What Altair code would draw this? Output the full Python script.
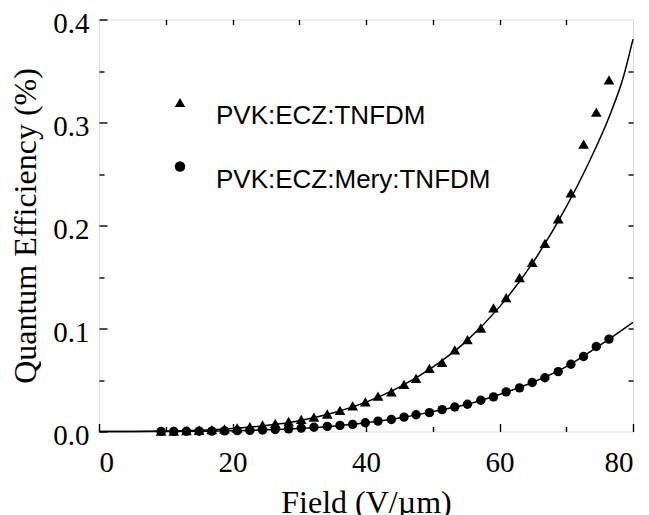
import altair as alt
import pandas as pd

series_names = ["PVK:ECZ:TNFDM", "PVK:ECZ:Mery:TNFDM"]

field_x = [9.3, 11.2, 13.1, 15.0, 16.9, 18.8, 20.7, 22.6, 24.5, 26.4, 28.4, 30.3,
           32.2, 34.2, 36.1, 38.0, 39.9, 41.8, 43.8, 45.7, 47.5, 49.5, 51.4, 53.3,
           55.2, 57.2, 59.1, 61.0, 63.0, 64.9, 66.8, 68.8, 70.7, 72.6, 74.5, 76.4]
tnfdm_y = [0.0003, 0.0005, 0.0008, 0.0012, 0.0018, 0.0026, 0.0036, 0.0048, 0.0063,
           0.0079, 0.0097, 0.0117, 0.0140, 0.0170, 0.0206, 0.0248, 0.0287, 0.0343,
           0.0385, 0.0457, 0.0516, 0.0613, 0.0672, 0.0793, 0.0891, 0.1005, 0.1201,
           0.1299, 0.1494, 0.1641, 0.1827, 0.2065, 0.2316, 0.2790, 0.3100, 0.3414]
mery_y = [0.0001, 0.0001, 0.0002, 0.0003, 0.0004, 0.0006, 0.0008, 0.0011, 0.0015,
          0.0020, 0.0026, 0.0033, 0.0041, 0.0050, 0.0059, 0.0069, 0.0085, 0.0101,
          0.0117, 0.0140, 0.0163, 0.0183, 0.0212, 0.0238, 0.0264, 0.0303, 0.0336,
          0.0385, 0.0424, 0.0476, 0.0522, 0.0581, 0.0653, 0.0728, 0.0825, 0.0897]

fit1_x = [0, 5, 10, 15, 20, 25, 30, 35, 40, 45, 50, 55, 60, 65, 70, 73.3, 76.7, 78.5, 80]
fit1_y = [0, 0.0001, 0.0004, 0.0011, 0.0028, 0.0058, 0.0105, 0.0180, 0.0285, 0.0430,
          0.0625, 0.0875, 0.1210, 0.1640, 0.2180, 0.2600, 0.3100, 0.3430, 0.3810]
fit2_x = [0, 5, 10, 15, 20, 25, 30, 35, 40, 45, 50, 55, 60, 65, 70, 75, 80]
fit2_y = [0, 0, 0.0001, 0.0003, 0.0007, 0.0016, 0.0030, 0.0052, 0.0085, 0.0132,
          0.0193, 0.0262, 0.0360, 0.0478, 0.0630, 0.0835, 0.1060]

x_major = [0, 20, 40, 60, 80]
x_minor = [10, 30, 50, 70]
x_top = [10, 20, 30, 40, 50, 60, 70]
y_major = [0.0, 0.1, 0.2, 0.3, 0.4]
y_minor = [0.05, 0.15, 0.25, 0.35]
y_right = [0.05, 0.1, 0.15, 0.2, 0.25, 0.3, 0.35]

tri = pd.DataFrame({"x": field_x, "y": tnfdm_y, "series": [series_names[0]] * len(field_x)})
cir = pd.DataFrame({"x": field_x, "y": mery_y, "series": [series_names[1]] * len(field_x)})
fit1 = pd.DataFrame({"x": fit1_x, "y": fit1_y})
fit2 = pd.DataFrame({"x": fit2_x, "y": fit2_y})

SERIF = "Liberation Serif"
SANS = "Liberation Sans"
MAJ = 8
MIN = 5

xs = alt.Scale(domain=[0, 80], nice=False, zero=False)
ys = alt.Scale(domain=[0, 0.4], nice=False)

common = dict(domain=False, grid=False, tickColor="black", tickWidth=1.4)

ax_x_major = alt.Axis(orient="bottom", values=x_major, format="d", tickSize=MAJ, offset=-MAJ,
                      labelFont=SERIF, labelFontSize=29, labelColor="black", labelPadding=17,
                      title="Field (V/µm)", titleFont=SERIF, titleFontSize=32,
                      titleFontWeight="normal", titleColor="black", titlePadding=10, **common)
ax_y_major = alt.Axis(orient="left", values=y_major, format=".1f", tickSize=MAJ, offset=-MAJ,
                      labelFont=SERIF, labelFontSize=29, labelColor="black", labelPadding=10,
                      labelOffset=4,
                      title="Quantum Efficiency (%)", titleFont=SERIF, titleFontSize=32,
                      titleFontWeight="normal", titleColor="black", titlePadding=10, **common)
ax_x_minor = alt.Axis(orient="bottom", values=x_minor, tickSize=MIN, offset=-MIN,
                      labels=False, title=None, **common)
ax_y_minor = alt.Axis(orient="left", values=y_minor, tickSize=MIN, offset=-MIN,
                      labels=False, title=None, **common)
ax_x_top = alt.Axis(orient="top", values=x_top, tickSize=MIN, offset=-MIN,
                    labels=False, title=None, **common)
ax_y_right = alt.Axis(orient="right", values=y_right, tickSize=MIN, offset=-MIN,
                      labels=False, title=None, **common)

shape_scale = alt.Scale(domain=series_names, range=["triangle-up", "circle"])
legend = alt.Legend(orient="none", legendX=68, legendY=70, title=None,
                    labelFont=SANS, labelFontSize=26, labelColor="black", labelBaseline="top",
                    labelLimit=500,
                    symbolFillColor="black", symbolStrokeColor="black",
                    symbolStrokeWidth=0, symbolSize=110, rowPadding=25,
                    labelOffset=23, padding=0)

line1 = alt.Chart(fit1).mark_line(color="black", strokeWidth=1.5, interpolate="monotone").encode(
    x=alt.X("x:Q", scale=xs, axis=ax_x_major),
    y=alt.Y("y:Q", scale=ys, axis=ax_y_major),
)
line2 = alt.Chart(fit2).mark_line(color="black", strokeWidth=1.5, interpolate="monotone").encode(
    x=alt.X("x:Q", scale=xs, axis=ax_x_top),
    y=alt.Y("y:Q", scale=ys, axis=ax_y_right),
)
pts_tri = alt.Chart(tri).mark_point(filled=True, color="black", opacity=1, size=115).encode(
    x=alt.X("x:Q", scale=xs, axis=ax_x_minor),
    y=alt.Y("y:Q", scale=ys, axis=ax_y_minor),
    shape=alt.Shape("series:N", scale=shape_scale, legend=legend),
)
pts_cir = alt.Chart(cir).mark_point(filled=True, color="black", opacity=1, size=88).encode(
    x=alt.X("x:Q", scale=xs, axis=None),
    y=alt.Y("y:Q", scale=ys, axis=None),
    shape=alt.Shape("series:N", scale=shape_scale, legend=legend),
)

chart = alt.layer(line1, line2, pts_tri, pts_cir).resolve_axis(
    x="independent", y="independent"
).properties(
    width=534, height=412,
    padding={"left": 91, "top": 11.5, "right": 8, "bottom": 84},
    autosize=alt.AutoSizeParams(type="none"),
).configure_view(
    stroke="black", strokeWidth=1.5
).configure(background="white")

chart.save("out.html", embed_options={"renderer": "svg", "actions": False})
